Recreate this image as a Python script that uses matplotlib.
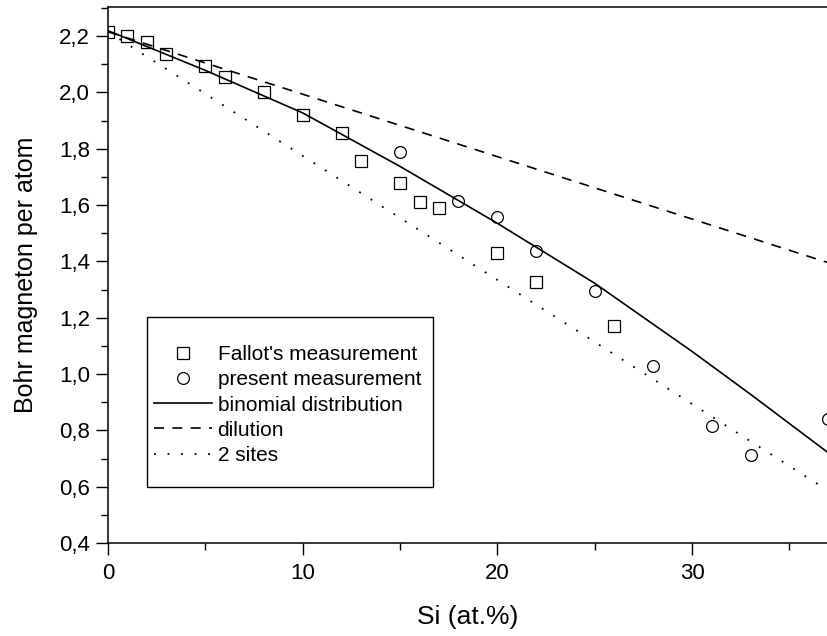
import numpy as np
import matplotlib
matplotlib.use('Agg')
import matplotlib.pyplot as plt
from matplotlib.patches import Rectangle
from matplotlib.ticker import MultipleLocator, FuncFormatter

plt.rcParams['font.family'] = ['Liberation Sans', 'DejaVu Sans']

# Fallot's measurement (squares)
fallot_x = [0, 1, 2, 3, 5, 6, 8, 10, 12, 13, 15, 16, 17, 20, 22, 26]
fallot_y = [2.215, 2.200, 2.178, 2.135, 2.093, 2.055, 2.000, 1.920, 1.854,
            1.757, 1.679, 1.610, 1.591, 1.428, 1.325, 1.170]

# present measurement (circles)
present_x = [15, 18, 20, 22, 25, 28, 31, 33, 37]
present_y = [1.787, 1.615, 1.556, 1.436, 1.293, 1.029, 0.817, 0.712, 0.842]

# model curves
binom_x = [0, 5, 10, 15, 20, 25, 30, 33, 37]
binom_y = [2.219, 2.078, 1.927, 1.737, 1.535, 1.322, 1.080, 0.928, 0.720]
dilution_x = [0, 37]
dilution_y = [2.215, 1.395]
sites_x = [0, 37]
sites_y = [2.215, 0.585]

fig = plt.figure(figsize=(8.27, 6.36), dpi=100)
ax = fig.add_axes([108/827, 1 - 543/636, 1 - 108/827, (543 - 7)/636])

ax.plot(fallot_x, fallot_y, ls='none', marker='s', ms=8, mfc='none',
        mec='black', mew=0.9, label="Fallot's measurement")
ax.plot(present_x, present_y, ls='none', marker='o', ms=8.5, mfc='none',
        mec='black', mew=0.9, label='present measurement')
ax.plot(binom_x, binom_y, color='black', lw=1.2, label='binomial distribution')
ax.plot(dilution_x, dilution_y, color='black', lw=1.2, ls=(0, (6, 5)),
        label='dilution')
ax.plot(sites_x, sites_y, color='black', lw=1.3, ls=(0, (1, 6.5)),
        label='2 sites')

ax.set_xlim(0, (827 - 108) / 19.47)
ax.set_ylim(0.4, 2.303)

ax.xaxis.set_major_locator(MultipleLocator(10))
ax.xaxis.set_minor_locator(MultipleLocator(5))
ax.yaxis.set_major_locator(MultipleLocator(0.2))
ax.yaxis.set_minor_locator(MultipleLocator(0.1))
ax.yaxis.set_major_formatter(FuncFormatter(lambda v, p: f"{v:.1f}".replace('.', ',')))

ax.tick_params(which='both', direction='out', width=1.0, labelsize=16,
               top=False, right=False)
ax.tick_params(axis='x', pad=6)
ax.tick_params(axis='y', pad=4.5)
ax.tick_params(which='major', length=8.5)
ax.tick_params(which='minor', length=5)
ax.spines['right'].set_visible(False)
for s in ['left', 'bottom', 'top']:
    ax.spines[s].set_linewidth(1.1)

ax.set_xlabel('Si (at.%)', fontsize=19, labelpad=15)
ax.set_ylabel('Bohr magneton per atom', fontsize=18, labelpad=15)

# legend box drawn separately (the original has extra padding top/bottom)
box = Rectangle((147/827, 1 - 487/636), (433 - 147)/827, (487 - 317)/636,
                transform=fig.transFigure, fc='white', ec='black', lw=1.0,
                zorder=4, clip_on=False)
ax.add_patch(box)

leg = ax.legend(loc='upper left', bbox_to_anchor=(154/827, 1 - 345/636),
                bbox_transform=fig.transFigure, borderaxespad=0, borderpad=0,
                fontsize=15, frameon=False, handlelength=2.8,
                handletextpad=0.25, labelspacing=0.3)
leg.set_zorder(5)

fig.savefig('out.png', dpi=100)
